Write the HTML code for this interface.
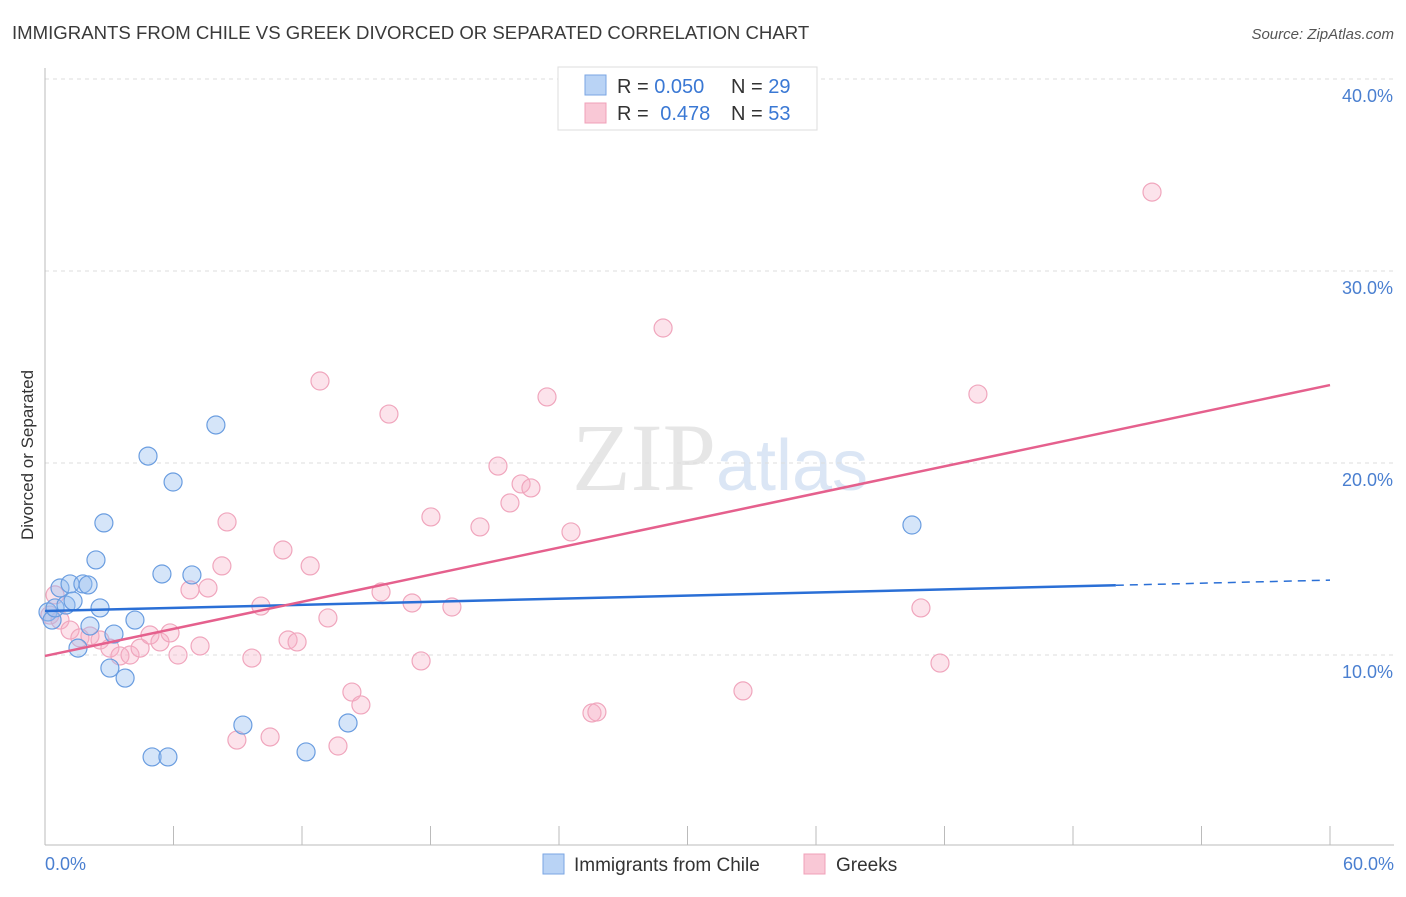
<!DOCTYPE html>
<html><head><meta charset="utf-8"><style>
body{margin:0;background:#fff;font-family:"Liberation Sans",sans-serif}
</style></head><body>
<svg width="1406" height="892" viewBox="0 0 1406 892" xmlns="http://www.w3.org/2000/svg" font-family="Liberation Sans, sans-serif">
<text x="12" y="39" font-size="18.6" fill="#3a3a3a">IMMIGRANTS FROM CHILE VS GREEK DIVORCED OR SEPARATED CORRELATION CHART</text>
<text x="1394" y="39" font-size="15" fill="#555" text-anchor="end" font-style="italic">Source: ZipAtlas.com</text>
<text x="720" y="490" font-size="96" text-anchor="middle" fill="#e6e6e6" font-family="Liberation Serif, serif">ZIP<tspan fill="#dbe6f5" font-family="Liberation Sans, sans-serif" font-size="72">atlas</tspan></text>
<g id="grid"></g>
<line x1="45" y1="68" x2="45" y2="845" stroke="#bbb"/>
<line x1="45" y1="845" x2="1394" y2="845" stroke="#bbb"/>
<g id="ticks"></g>
<text transform="translate(33,455) rotate(-90)" font-size="17" fill="#333" text-anchor="middle">Divorced or Separated</text>
<text x="45" y="870" font-size="18" fill="#4a7fd0">0.0%</text>
<text x="1394" y="870" font-size="18" fill="#4a7fd0" text-anchor="end">60.0%</text>
<g id="pts"></g>
<g id="lines"></g>
<g>
<rect x="558" y="67" width="259" height="63" fill="#fff" stroke="#ddd"/>
<rect x="585" y="75" width="21" height="20" fill="#b9d3f5" stroke="#7aa6e3"/>
<rect x="585" y="103" width="21" height="20" fill="#f9c8d6" stroke="#f0a0b8"/>
<text x="617" y="93" font-size="20" fill="#333">R = <tspan fill="#3a78d4">0.050</tspan><tspan x="731">N = </tspan><tspan fill="#3a78d4">29</tspan></text>
<text x="617" y="120" font-size="20" fill="#333">R = <tspan fill="#3a78d4" dx="6">0.478</tspan><tspan x="731">N = </tspan><tspan fill="#3a78d4">53</tspan></text>
</g>
<g>
<rect x="543" y="854" width="21" height="20" fill="#b9d3f5" stroke="#7aa6e3"/>
<text x="574" y="871" font-size="19" fill="#333">Immigrants from Chile</text>
<rect x="804" y="854" width="21" height="20" fill="#f9c8d6" stroke="#f0a0b8"/>
<text x="836" y="871" font-size="19" fill="#333">Greeks</text>
</g>
</svg>
<script>
const yTicks=[10,20,30,40];
const yTickLabels=["10.0%","20.0%","30.0%","40.0%"];
const xTicks=[0,6,12,18,24,30,36,42,48,54,60];
const blueX=[0.14,0.33,0.47,0.70,0.98,1.17,1.31,1.77,2.01,2.38,2.10,2.57,1.54,2.75,3.22,3.03,3.74,4.20,4.81,5.00,5.46,5.74,5.98,6.86,7.98,9.24,12.19,14.15,40.48];
const blueY=[12.24,11.82,12.45,13.49,12.60,13.70,12.81,13.70,13.65,14.95,11.51,12.45,10.36,16.88,11.09,9.32,8.80,11.82,20.36,4.69,14.22,4.69,19.01,14.17,21.98,6.35,4.95,6.46,16.77];
const pinkX=[0.47,0.23,0.70,1.17,1.63,2.10,2.57,3.03,3.50,3.97,4.44,4.90,5.37,5.84,6.21,6.77,7.24,7.61,8.26,8.50,8.96,9.66,10.08,10.51,11.11,11.35,11.77,12.38,12.84,13.21,13.68,14.33,14.75,15.69,16.06,17.14,17.56,18.02,19.00,20.31,21.15,21.71,22.23,22.69,23.44,24.56,25.54,25.77,28.86,32.59,40.90,41.79,43.56,51.69];
const pinkY=[13.13,12.08,11.82,11.30,10.89,10.99,10.78,10.36,9.95,10.00,10.36,11.04,10.68,11.15,10.00,13.39,10.47,13.49,14.64,16.93,5.57,9.84,12.55,5.73,15.47,10.78,10.68,14.64,24.27,11.93,5.26,8.07,7.40,13.28,22.55,12.71,9.69,17.19,12.50,16.67,19.84,17.92,18.91,18.70,23.44,16.41,6.98,7.03,27.03,8.13,12.45,9.58,23.59,34.11];
const blueTrend=[12.29,13.9];
const pinkTrend=[9.95,24.06];
const NS="http://www.w3.org/2000/svg";
const sx=v=>45+v*(1285/60), sy=v=>847-v*19.2;
function mk(t,a,p){const e=document.createElementNS(NS,t);for(const k in a)e.setAttribute(k,a[k]);p.appendChild(e);return e;}
const grid=document.getElementById('grid');
yTicks.forEach((t,i)=>{
 const l=mk('line',{x1:45,x2:1394,y1:sy(t),y2:sy(t),stroke:'#ddd','stroke-dasharray':'4,4'},grid);
 
 
 const tx=mk('text',{x:1393,y:sy(t)+23,'font-size':18,fill:'#4a7fd0','text-anchor':'end'},grid);
 tx.textContent=yTickLabels[i];
 
 
});
const tk=document.getElementById('ticks');
xTicks.forEach(t=>{const l=mk('line',{x1:sx(t),x2:sx(t),y1:826,y2:845,stroke:'#bbb'},tk);
 
 });
const pts=document.getElementById('pts');
pinkX.forEach((x,i)=>{const c=mk('circle',{cx:sx(x),cy:sy(pinkY[i]),r:9,fill:'rgba(246,176,198,0.35)',stroke:'#f0a6bd','stroke-width':1.2},pts);
 
 });
blueX.forEach((x,i)=>{const c=mk('circle',{cx:sx(x),cy:sy(blueY[i]),r:9,fill:'rgba(150,190,240,0.4)',stroke:'#6a9de0','stroke-width':1.2},pts);
 
 });
const ln=document.getElementById('lines');
const bAt=v=>blueTrend[0]+(blueTrend[1]-blueTrend[0])*v/60;
let l1=mk('line',{x1:sx(0),y1:sy(bAt(0)),x2:sx(50),y2:sy(bAt(50)),stroke:'#2a6fd6','stroke-width':2.5},ln);


let l2=mk('line',{x1:sx(50),y1:sy(bAt(50)),x2:sx(60),y2:sy(bAt(60)),stroke:'#2a6fd6','stroke-width':1.5,'stroke-dasharray':'8,6'},ln);


let l3=mk('line',{x1:sx(0),y1:sy(pinkTrend[0]),x2:sx(60),y2:sy(pinkTrend[1]),stroke:'#e5608d','stroke-width':2.5},ln);


</script>
</body></html>
